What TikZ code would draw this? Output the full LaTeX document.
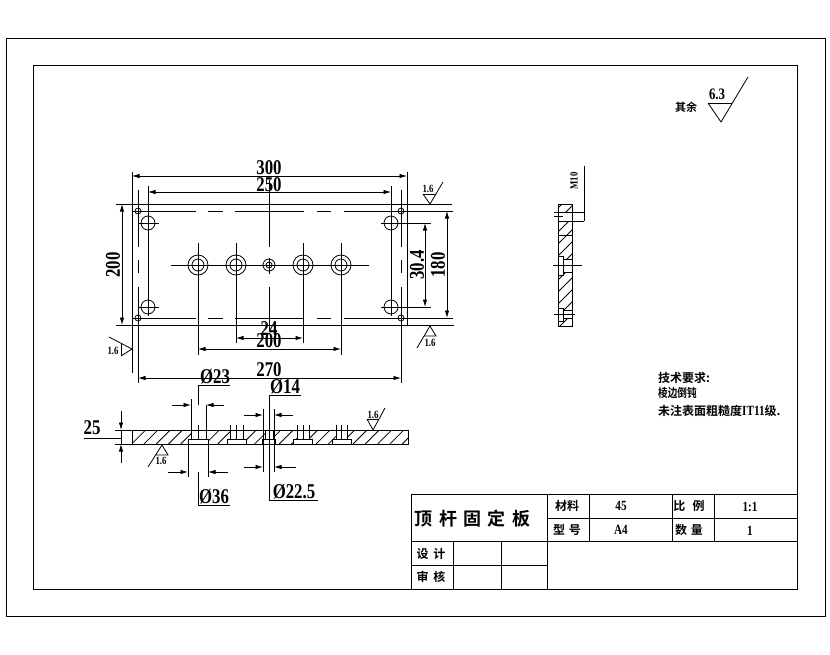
\documentclass[tikz,border=0pt]{standalone}
\usepackage{fontspec}
\usepackage{tikz}
\usetikzlibrary{arrows.meta}
\newfontfamily\cjk{Noto Sans CJK SC}[BoldFont=* Bold]
\newfontfamily\dimfont{Liberation Serif}[FakeStretch=0.8]
\tikzstyle{outline} = [line width=1pt, black]
\tikzstyle{thin} = [line width=0.8pt, black]
\tikzstyle{dimarrow} = [line width=0.8pt, <->, >={Latex[length=7.5pt,width=4.4pt]}]
\tikzstyle{onearrow} = [line width=0.8pt, ->, >={Latex[length=7.5pt,width=4.4pt]}]
\tikzstyle{dimtext} = [inner sep=0pt, font=\dimfont\bfseries\fontsize{21}{21}\selectfont]
\tikzstyle{smalltext} = [inner sep=0pt, font=\dimfont\bfseries\fontsize{11}{11}\selectfont]
\tikzstyle{celltext} = [inner sep=0pt, font=\dimfont\bfseries\fontsize{14}{14}\selectfont]
\tikzstyle{cjktext} = [inner sep=0pt, font=\cjk\bfseries\fontsize{12}{12}\selectfont]
\begin{document}
\begin{tikzpicture}[x=1pt, y=-1pt]
    \useasboundingbox (0,0) rectangle (830,654);
    % frames
    \draw[outline] (6,38.5) rectangle (825,616);
    \draw[outline] (33,65.5) rectangle (797.5,589);
    % title block
    \draw[outline] (411,589) -- (411,494) -- (797.5,494);
    \draw[outline] (547,518) -- (797.5,518);
    \draw[outline] (411,541) -- (797.5,541);
    \draw[outline] (411,565) -- (547,565);
    \draw[outline] (547,494) -- (547,589);
    \draw[outline] (589,494) -- (589,541);
    \draw[outline] (672,494) -- (672,541);
    \draw[outline] (714,494) -- (714,541);
    \draw[outline] (453,541) -- (453,589);
    \draw[outline] (501,541) -- (501,589);
    \node(partname)[inner sep=0pt, font=\cjk\bfseries\fontsize{18}{18}\selectfont] at (472.5,519) {顶\hspace{0.35em}杆\hspace{0.35em}固\hspace{0.35em}定\hspace{0.35em}板};
    \node(material)[cjktext] at (567,506) {材料};
    \node(materialval)[celltext] at (621,506) {45};
    \node(scale)[cjktext] at (689,506) {比\hspace{0.6em}例};
    \node(scaleval)[celltext] at (750,507) {1:1};
    \node(model)[cjktext] at (567,530) {型\hspace{0.3em}号};
    \node(modelval)[celltext] at (621,530) {A4};
    \node(count)[cjktext] at (689,530) {数\hspace{0.3em}量};
    \node(countval)[celltext] at (750,531) {1};
    \node(design)[cjktext] at (431,554) {设\hspace{0.4em}计};
    \node(check)[cjktext] at (431,577) {审\hspace{0.4em}核};
    % default roughness
    \node(rest)[cjktext, font=\cjk\bfseries\fontsize{11}{11}\selectfont] at (686,107) {其余};
    \draw[thin] (708,103) -- (732,103);
    \draw[thin] (708,103) -- (721,122) -- (748,77);
    \node(restval)[celltext, font=\dimfont\bfseries\fontsize{16}{16}\selectfont] at (717,94) {6.3};
    % notes
    \node(notehead)[cjktext, anchor=west] at (658,378) {技术要求:};
    \node(noteone)[cjktext, anchor=west] at (658,393) {\scalebox{0.8}[1]{棱边倒钝}};
    \node(notetwo)[cjktext, anchor=west] at (658,411) {未注表面粗糙度{\dimfont\fontsize{14}{14}\selectfont IT11}级.};
    %
    % plan view
    \draw[outline] (116,204) -- (452,204);
    \draw[outline] (116,325) -- (454,325);
    \foreach \y in {211,318} {
        \draw[outline] (132,\y) -- (196,\y);
        \draw[outline] (208,\y) -- (223,\y);
        \draw[outline] (235,\y) -- (304,\y);
        \draw[outline] (317,\y) -- (331,\y);
        \draw[outline] (344,\y) -- (453,\y);
    }
    \foreach \x in {138,401} {
        \draw[thin] (\x,190) -- (\x,247);
        \draw[thin] (\x,260) -- (\x,273);
        \draw[thin] (\x,287) -- (\x,383);
        \draw[thin] (\x,211) circle (3pt);
        \draw[thin] (\x,318) circle (3pt);
    }
    \foreach \y in {223,307} {
        \draw[thin] (148,\y) circle (7pt);
        \draw[thin] (391,\y) circle (7pt);
        \draw[thin] (139,\y) -- (159,\y);
        \draw[thin] (381,\y) -- (431,\y);
    }
    \draw[thin] (148,186) -- (148,316);
    \draw[thin] (391,186) -- (391,316);
    \draw[thin] (171,265) -- (369,265);
    \foreach \x in {198,236,303,341} {
        \draw[thin] (\x,265) circle (10pt);
        \draw[thin] (\x,265) circle (6pt);
    }
    \draw[thin] (269,265) circle (6pt);
    \draw[thin] (269,265) circle (3pt);
    \draw[thin] (198,243) -- (198,355);
    \draw[thin] (236,243) -- (236,343);
    \draw[thin] (303,243) -- (303,343);
    \draw[thin] (341,243) -- (341,355);
    \draw[thin] (269,180) -- (269,247);
    \draw[thin] (269,258) -- (269,274);
    \draw[thin] (269,287) -- (269,332);
    % plan view dimensions
    \draw[thin] (132,172) -- (132,373);
    \draw[thin] (407,172) -- (407,325);
    \draw[dimarrow] (132,176) -- (407,176);
    \draw[dimarrow] (148,192) -- (391,192);
    \draw[dimarrow] (122,204) -- (122,325);
    \draw[dimarrow] (425,223) -- (425,307);
    \draw[dimarrow] (447,211) -- (447,318);
    \draw[dimarrow] (236,338) -- (303,338);
    \draw[dimarrow] (198,349) -- (341,349);
    \draw[dimarrow] (138,378) -- (401,378);
    \node(widthall)[dimtext] at (269,168) {300};
    \node(widthholes)[dimtext] at (269,185) {250};
    \node(heightall)[dimtext, rotate=90] at (113,265) {200};
    \node(heighthole)[dimtext, rotate=90] at (417,265) {30.4};
    \node(heightin)[dimtext, rotate=90] at (438,265) {180};
    \node(pitch)[dimtext] at (269,329) {24};
    \node(widthrow)[dimtext] at (269,341) {200};
    \node(widthbolt)[dimtext] at (269,370) {270};
    % plan view roughness
    \draw[thin] (423,194) -- (436,194);
    \draw[thin] (423,194) -- (430,204) -- (443,182);
    \node(rtop)[smalltext] at (428,189) {1.6};
    \draw[thin] (424,336) -- (436,336) -- (430,326) -- (417,348);
    \node(rbottom)[smalltext] at (430,343) {1.6};
    \draw[thin] (121,356) -- (121,343);
    \draw[thin] (121,356) -- (132,349) -- (109,337);
    \node(rleft)[smalltext] at (113,351) {1.6};
    %
    % section
    \begin{scope}
        \clip (132,430) rectangle (408,444);
        \foreach \x in {119.3,131.6,...,415} {
            \draw[thin] (\x,444) -- (\x+14,430);
        }
    \end{scope}
    \foreach \cx/\da/\db/\ca/\cb in {198/191/206/188/208, 236/230/243/227/246, 269/265/273/262/275, 303/297/309/293/312, 341/336/347/332/351} {
        \fill[white] (\da,430) rectangle (\db,444);
        \fill[white] (\ca,439) rectangle (\cb,444);
        \draw[thin] (\da,430) -- (\da,439);
        \draw[thin] (\db,430) -- (\db,439);
        \draw[thin] (\ca,444) -- (\ca,439) -- (\cb,439) -- (\cb,444);
    }
    \draw[outline] (132,430) rectangle (408,444);
    \foreach \cx in {198,236,303,341} {
        \draw[thin] (\cx,425) -- (\cx,439);
    }
    \draw[thin] (230,425) -- (230,430);
    \draw[thin] (243,425) -- (243,430);
    \draw[thin] (297,425) -- (297,430);
    \draw[thin] (309,425) -- (309,430);
    \draw[thin] (336,425) -- (336,430);
    \draw[thin] (347,425) -- (347,430);
    % section dimensions
    \draw[thin] (115,430) -- (132,430);
    \draw[thin] (115,444) -- (132,444);
    \draw[onearrow] (121,411) -- (121,430);
    \draw[onearrow] (121,463) -- (121,444);
    \draw[thin] (121,430) -- (121,444);
    \draw[thin] (84,438) -- (121,438);
    \node(thick)[dimtext] at (92,428) {25};
    %
    \draw[thin] (191,399) -- (191,430);
    \draw[thin] (206,405) -- (206,430);
    \draw[onearrow] (172,405) -- (191,405);
    \draw[onearrow] (224,405) -- (206,405);
    \draw[thin] (198,405) -- (198,385) -- (230,385);
    \node(borea)[dimtext] at (215,377) {Ø23};
    \draw[thin] (188,444) -- (188,477);
    \draw[thin] (208,444) -- (208,477);
    \draw[onearrow] (168,472) -- (188,472);
    \draw[onearrow] (228,472) -- (208,472);
    \draw[thin] (198,425) -- (198,439);
    \draw[thin] (198,472) -- (198,505) -- (230,505);
    \node(boreb)[dimtext] at (214,497) {Ø36};
    %
    \draw[thin] (263,409) -- (263,472);
    \draw[thin] (274,409) -- (274,472);
    \draw[onearrow] (244,415) -- (263,415);
    \draw[onearrow] (293,415) -- (274,415);
    \draw[onearrow] (244,467) -- (263,467);
    \draw[onearrow] (296,467) -- (274,467);
    \draw[outline] (269,395) -- (301,395);
    \draw[outline] (269,395) -- (269,500) -- (318,500);
    \node(borec)[dimtext] at (285,387) {Ø14};
    \node(bored)[dimtext] at (294,492) {Ø22.5};
    % section roughness
    \draw[thin] (156,455) -- (168,455) -- (162,445) -- (148,467);
    \node(rlow)[smalltext] at (161,461) {1.6};
    \draw[thin] (367,419) -- (379,419);
    \draw[thin] (367,419) -- (373,430) -- (385,408);
    \node(rhigh)[smalltext] at (373,415) {1.6};
    %
    % side view
    \begin{scope}
        \clip (558,204) rectangle (572,326);
        \foreach \y in {208,220,...,340} {
            \draw[thin] (558,\y) -- (572,\y-14);
        }
    \end{scope}
    \fill[white] (558,212) rectangle (572,221);
    \fill[white] (558,256) rectangle (563,275);
    \fill[white] (563,259) rectangle (572,272);
    \fill[white] (558,308) rectangle (563,321);
    \fill[white] (563,310) rectangle (572,318);
    \draw[outline] (558,204) rectangle (572,326);
    \draw[outline] (554,212) -- (584,212);
    \draw[outline] (558,221) -- (584,221);
    \draw[outline] (584,166) -- (584,221);
    \draw[thin] (554,216) -- (563,216);
    \draw[thin] (558,235) -- (572,235);
    \draw[thin] (558,256) rectangle (563,275);
    \draw[thin] (563,259) -- (572,259);
    \draw[thin] (563,272) -- (572,272);
    \draw[thin] (553,265) -- (582,265);
    \draw[thin] (558,308) rectangle (563,321);
    \draw[thin] (563,310) -- (572,310);
    \draw[thin] (563,318) -- (572,318);
    \draw[thin] (554,314) -- (575,314);
    \node(thread)[smalltext, rotate=90] at (574,181) {M10};
\end{tikzpicture}
\end{document}
